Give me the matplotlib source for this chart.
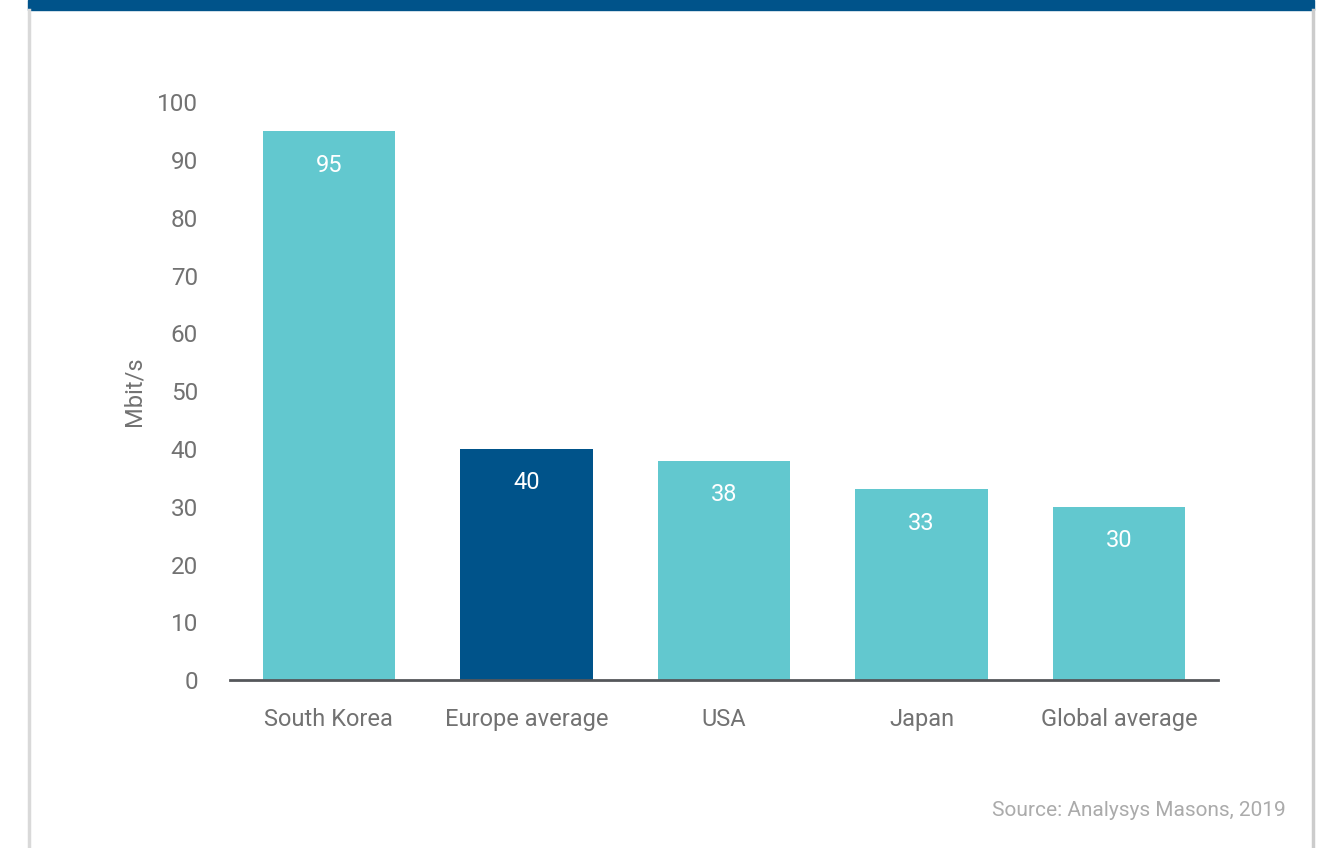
import matplotlib.pyplot as plt
from matplotlib.patches import Rectangle
from matplotlib.lines import Line2D

plt.rcParams['font.family'] = ['Roboto', 'DejaVu Sans']

categories = ['South Korea', 'Europe average', 'USA', 'Japan', 'Global average']
speeds = [95, 40, 38, 33, 30]
highlight = 'Europe average'
yticks = [0, 10, 20, 30, 40, 50, 60, 70, 80, 90, 100]

teal = '#62C8CF'
navy = '#00538A'
tick_grey = '#727272'

fig = plt.figure(figsize=(13.29, 8.48), dpi=100)

# frame: navy band on top, grey side borders
fig.patches.append(Rectangle((28 / 1329, 1 - 10 / 848), (1314 - 28) / 1329, 10 / 848,
                             transform=fig.transFigure, color=navy, zorder=0))
fig.lines.append(Line2D([29 / 1329, 29 / 1329], [0, 1 - 10 / 848], transform=fig.transFigure,
                        color='#d9d9d9', lw=2.5))
fig.lines.append(Line2D([1313 / 1329, 1313 / 1329], [0, 1 - 10 / 848], transform=fig.transFigure,
                        color='#cccccc', lw=2.5))

ax = fig.add_axes([230 / 1329, 168 / 848, 988 / 1329, 577.5 / 848])
x = range(len(categories))
colors = [navy if c == highlight else teal for c in categories]
ax.bar(x, speeds, width=0.67, color=colors, zorder=2)

# value labels sit inside the top of each bar
for i, v in zip(x, speeds):
    ax.annotate(str(v), (i, v), xytext=(0, -34), textcoords='offset pixels',
                ha='center', va='center', color='white', fontsize=17)

ax.set_xlim(-0.5, 4.5)
ax.set_ylim(0, 100)
ax.set_yticks(yticks)
ax.set_yticklabels([str(t) for t in yticks])
ax.set_xticks(list(x))
ax.set_xticklabels(categories)
ax.tick_params(axis='y', length=0, pad=23, labelsize=17.5, labelcolor=tick_grey)
ax.tick_params(axis='x', length=0, pad=20, labelsize=17, labelcolor=tick_grey)
for s in ['top', 'right', 'left']:
    ax.spines[s].set_visible(False)
ax.spines['bottom'].set_color('#55575b')
ax.spines['bottom'].set_linewidth(2)
ax.set_ylabel('Mbit/s', fontsize=17, color=tick_grey, labelpad=8)

fig.text(1286 / 1329, 1 - 811 / 848, 'Source: Analysys Masons, 2019', ha='right', va='center',
         fontsize=15, color='#ababab')

fig.savefig('out.png', dpi=100)
